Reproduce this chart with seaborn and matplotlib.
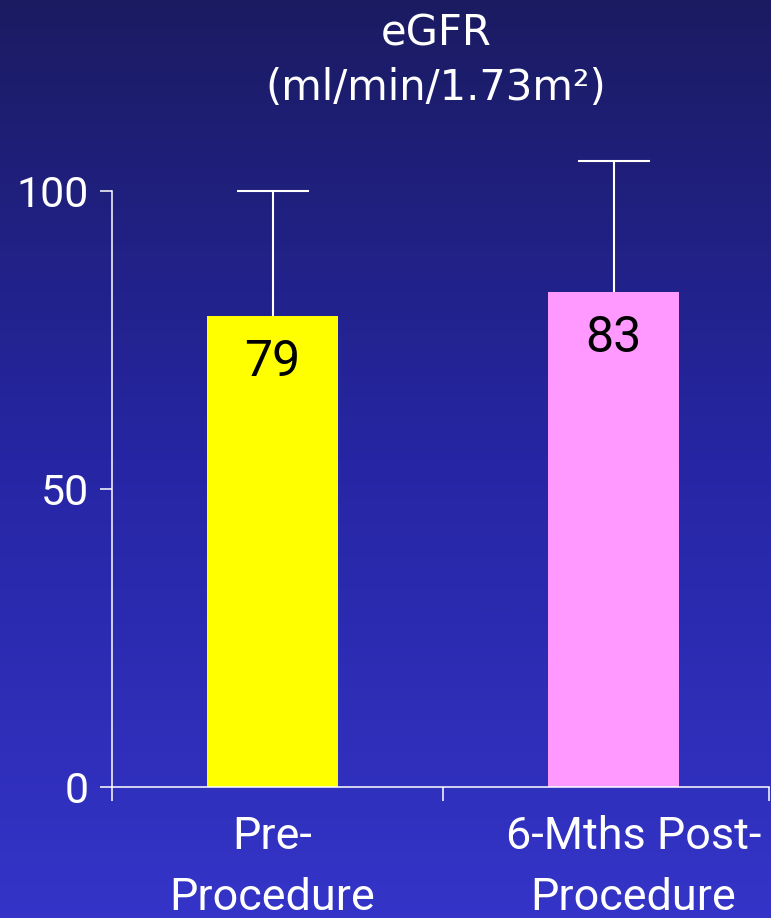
import numpy as np
import pandas as pd
import matplotlib
matplotlib.use("Agg")
import matplotlib.pyplot as plt
import matplotlib.transforms as mtransforms
import seaborn as sns
from matplotlib.colors import LinearSegmentedColormap

# eGFR before and six months after the procedure (mean with upper SD whisker)
categories = ["Pre-\nProcedure", "6-Mths Post-\nProcedure"]
egfr_mean = [79, 83]
egfr_sd = [21, 22]
bar_colors = ["#FFFF00", "#FF99FF"]
y_ticks = [0, 50, 100]
title_lines = ["eGFR", "(ml/min/1.73m²)"]

sns.set_theme(style="white")
plt.rcParams["font.family"] = ["Roboto", "DejaVu Sans"]

W, H = 771, 918
fig = plt.figure(figsize=(W / 100, H / 100), dpi=100)

# vertical navy-to-blue gradient behind everything
bg = fig.add_axes([0, 0, 1, 1], zorder=-10)
grad = np.linspace(0, 1, 512).reshape(-1, 1)
cmap = LinearSegmentedColormap.from_list("slide_bg", ["#1b1b62", "#2626a4", "#3434c8"])
bg.imshow(grad, aspect="auto", cmap=cmap, extent=[0, 1, 0, 1], origin="upper")
bg.set_axis_off()

left, right, top, bottom = 112, 769, 190.7, 787.3
ax = fig.add_axes([left / W, 1 - bottom / H, (right - left) / W, (bottom - top) / H])
ax.set_facecolor("none")

df = pd.DataFrame({"period": categories, "egfr": egfr_mean})
sns.barplot(data=df, x="period", y="egfr", hue="period", palette=bar_colors,
            width=0.384, saturation=1, legend=False, errorbar=None, ax=ax,
            zorder=2, linewidth=0, edgecolor="none")

# whiskers sit behind the bars so only the upper half shows
eb = ax.errorbar(range(len(egfr_mean)), egfr_mean, yerr=egfr_sd, fmt="none",
                 ecolor="white", elinewidth=1.5, capsize=26, capthick=1.5, zorder=1)
for art in list(eb.lines[1]) + list(eb.lines[2]):
    art.set_clip_on(False)

for i, v in enumerate(egfr_mean):
    ax.annotate(f"{v}", (i, v), xytext=(0, -16), textcoords="offset points",
                ha="center", va="top", fontsize=36, color="black")

x0, x1 = -0.4707, 1.456
ax.set_xlim(x0, x1)
ax.set_ylim(0, 100)
ax.set_yticks(y_ticks)
ax.set_xticks(range(len(categories)))
ax.set_xticklabels(categories)
ax.set_xticks([x0, 0.5, x1], minor=True)
ax.set_xlabel("")
ax.set_ylabel("")

for s in ["top", "right"]:
    ax.spines[s].set_visible(False)
for s in ["left", "bottom"]:
    ax.spines[s].set_color("white")
    ax.spines[s].set_linewidth(1.1)

ax.tick_params(axis="y", direction="out", length=8.6, width=1.1, color="white",
               labelcolor="white", labelsize=31, pad=8, left=True)
ax.tick_params(axis="x", which="major", length=0, labelcolor="white",
               labelsize=32.4, pad=21)
ax.tick_params(axis="x", which="minor", direction="out", length=10, width=1.1,
               color="white", bottom=True)
xlabels = ax.get_xticklabels()
for lbl in xlabels:
    lbl.set_linespacing(1.55)
# the second category label sits a little right of its bar
shift = mtransforms.ScaledTranslation(20 / 100, 0, fig.dpi_scale_trans)
xlabels[1].set_transform(xlabels[1].get_transform() + shift)

title_font = ["DejaVu Sans"]
fig.text(436 / W, 1 - 46 / H, title_lines[0], ha="center", va="baseline",
         fontsize=30, color="white", family=title_font)
fig.text(436 / W, 1 - 100 / H, title_lines[1], ha="center", va="baseline",
         fontsize=30, color="white", family=title_font)

fig.savefig("out.png", dpi=100)
